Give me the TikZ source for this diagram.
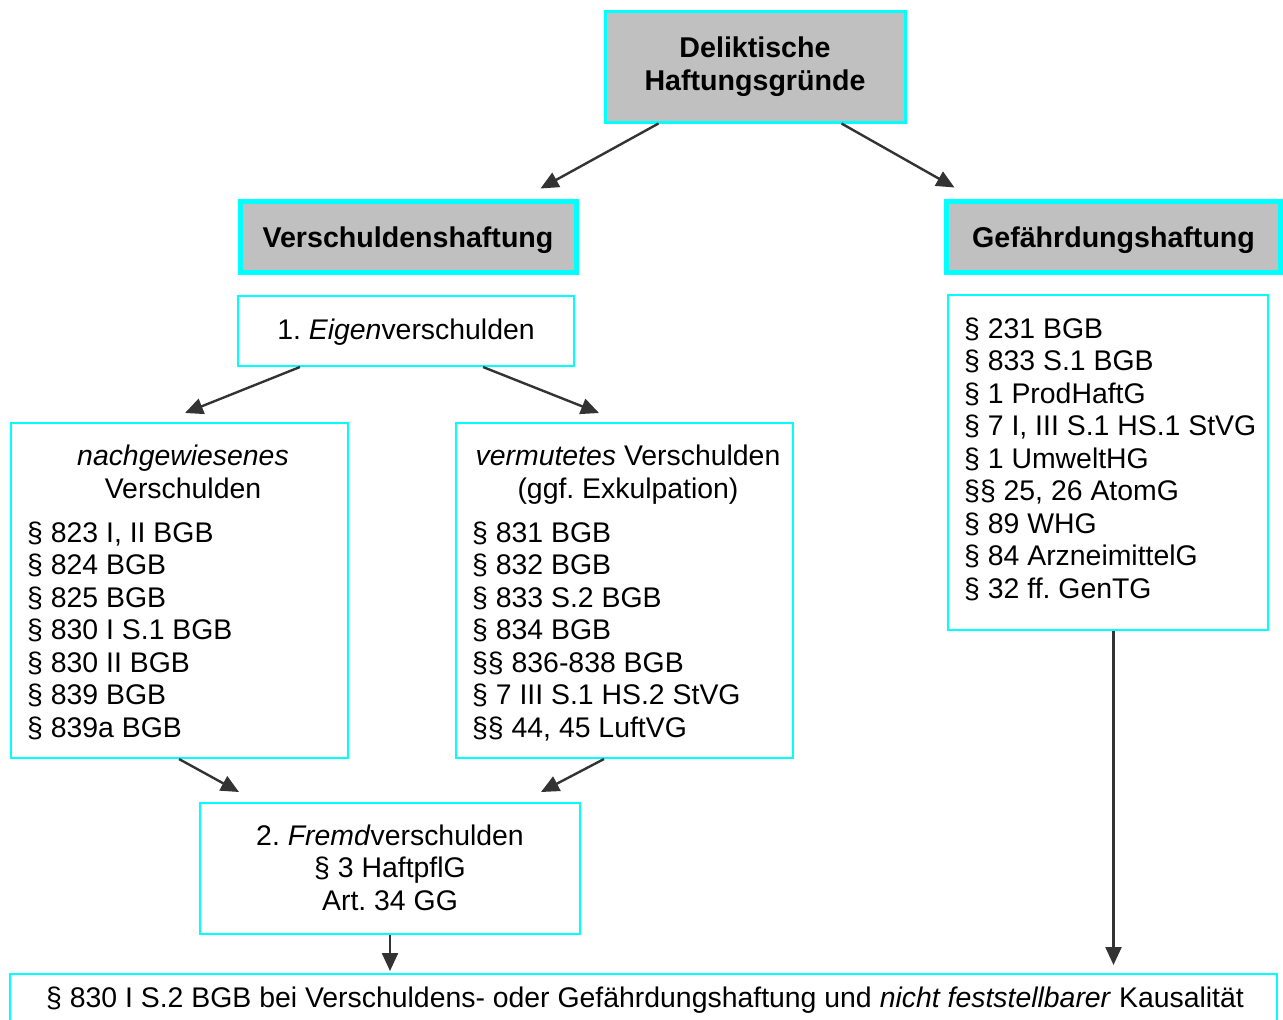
\documentclass[tikz,border=0pt]{standalone}
\usepackage{fontspec}
\setmainfont{Liberation Sans}[Ligatures=NoCommon]
\usetikzlibrary{arrows.meta,calc}
\definecolor{cy}{HTML}{00FFFF}
\definecolor{gr}{HTML}{C0C0C0}
\definecolor{ar}{HTML}{333333}
\frenchspacing
\begin{document}
\begin{tikzpicture}[x=1pt,y=-1pt,
  font=\fontsize{28.4pt}{32.5pt}\selectfont\frenchspacing,
  box/.style={draw=cy, line width=2pt, fill=white, inner sep=0pt, rectangle},
  gbox/.style={box, fill=gr},
  ltxt/.style={inner sep=0pt, align=left, anchor=base west},
  ctxt/.style={inner sep=0pt, align=center, anchor=base},
  btxt/.style={ctxt, font=\fontsize{28.6pt}{32.5pt}\bfseries\selectfont},
  arr/.style={draw=ar, line width=2.4pt, -{Triangle[length=18pt,width=16pt]}}]
\useasboundingbox (0,0) rectangle (1283,1020);
% boxes
\node[gbox, line width=3pt, minimum width=300pt, minimum height=111pt] (top) at (755,66.5) {};
\node[gbox, line width=5pt, minimum width=336pt, minimum height=71pt] (vs) at (408,236.5) {};
\node[gbox, line width=5pt, minimum width=334pt, minimum height=71pt] (gh) at (1113.5,236.5) {};
\node[box, minimum width=336pt, minimum height=70pt] (eig) at (406,331) {};
\node[box, minimum width=337pt, minimum height=335pt] (nach) at (179.5,590.5) {};
\node[box, minimum width=337pt, minimum height=335pt] (verm) at (624.5,590.5) {};
\node[box, minimum width=320pt, minimum height=335pt] (gl) at (1108,462.5) {};
\node[box, minimum width=380pt, minimum height=131pt] (fremd) at (390,868.5) {};
\node[box, minimum width=1267pt, minimum height=60pt] (bot) at (643.5,1004) {};
% texts (base anchor = baseline of the last line)
\node[btxt] (topT) at (755,90) {Deliktische\\Haftungsgründe};
\node[btxt] (vsT) at (408,247) {Verschuldenshaftung};
\node[btxt] (ghT) at (1113.5,247) {Gefährdungshaftung};
\node[ctxt] (eigT) at (406,339) {1. \textit{Eigen}verschulden};
\node[ctxt] (nachH) at (183,498) {\textit{nachgewiesenes}\\Verschulden};
\node[ltxt] (nachL) at (27,737) {§ 823 I, II BGB\\§ 824 BGB\\§ 825 BGB\\§ 830 I S.1 BGB\\§ 830 II BGB\\§ 839 BGB\\§ 839a BGB};
\node[ctxt] (vermH) at (628,498) {\textit{vermutetes} Verschulden\\(ggf. Exkulpation)};
\node[ltxt] (vermL) at (472,737) {§ 831 BGB\\§ 832 BGB\\§ 833 S.2 BGB\\§ 834 BGB\\§§ 836-838 BGB\\§ 7 III S.1 HS.2 StVG\\§§ 44, 45 LuftVG};
\node[ltxt] (glL) at (964,598) {§ 231 BGB\\§ 833 S.1 BGB\\§ 1 ProdHaftG\\§ 7 I, III S.1 HS.1 StVG\\§ 1 UmweltHG\\§§ 25, 26 AtomG\\§ 89 WHG\\§ 84 ArzneimittelG\\§ 32 ff. GenTG};
\node[ctxt] (fremdT) at (390,910) {2. \textit{Fremd}verschulden\\§ 3 HaftpflG\\Art. 34 GG};
\node[ctxt] (botT) at (645,1007) {§ 830 I S.2 BGB bei Verschuldens- oder Gefährdungshaftung und \textit{nicht feststellbarer} Kausalität};
% connectors
\draw[arr] ($(top.south west)+(55,0)$) -- ($(vs.north west)+(303,-10)$);
\draw[arr] ($(top.south west)+(238,0)$) -- ($(gh.north west)+(10.5,-11)$);
\draw[arr] ($(eig.south west)+(63,0)$) -- ($(nach.north west)+(175,-9)$);
\draw[arr] ($(eig.south west)+(246,0)$) -- ($(verm.north west)+(144,-9)$);
\draw[arr] ($(nach.south west)+(169,0)$) -- ($(fremd.north west)+(40,-10)$);
\draw[arr] ($(verm.south west)+(149,0)$) -- ($(fremd.north west)+(342,-10)$);
\draw[arr, shorten >=2pt] (fremd.south) -- (fremd.south |- bot.north);
\draw[arr, shorten >=8pt] (gh.south |- gl.south) -- (gh.south |- bot.north);
\end{tikzpicture}
\end{document}
